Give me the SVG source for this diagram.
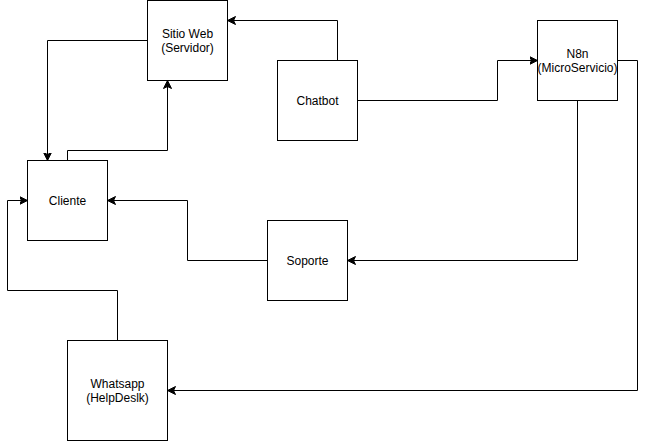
<svg xmlns="http://www.w3.org/2000/svg" width="646" height="441" viewBox="0 0 646 441">
<defs>
<marker id="arr" markerUnits="userSpaceOnUse" markerWidth="10" markerHeight="10" refX="8" refY="4.5" orient="auto">
<path d="M0,0.5 L8,4.5 L0,8.5 L2,4.5 Z" fill="#000" stroke="#000" stroke-width="1"/>
</marker>
<style>
.box{fill:#fff;stroke:#000;stroke-width:1}
.lbl{font-family:"Liberation Sans",Arial,sans-serif;font-size:12px;fill:#000;text-anchor:middle}
.edge{fill:none;stroke:#000;stroke-width:1;marker-end:url(#arr)}
</style>
</defs>
<rect width="646" height="441" fill="#fff"/>
<g id="connectors">
<path class="edge" d="M337.5,60.5 V20.5 H227.5"/>
<path class="edge" d="M147.5,40.5 H47.5 V160.5"/>
<path class="edge" d="M67.5,160.5 V150.5 H167.5 V80.5"/>
<path class="edge" d="M357.5,100.5 H497.5 V60.5 H537.5"/>
<path class="edge" d="M577.5,100.5 V260.5 H347.5"/>
<path class="edge" d="M617.5,60.5 H637.5 V390.5 H167.5"/>
<path class="edge" d="M267.5,260.5 H187.5 V200.5 H107.5"/>
<path class="edge" d="M117.5,340.5 V290.5 H7.5 V200.5 H27.5"/>
</g>
<g id="sitio">
<rect class="box" x="147.5" y="0.5" width="80" height="80"/>
<text class="lbl" x="187.5" y="38">Sitio Web</text>
<text class="lbl" x="187.5" y="52">(Servidor)</text>
</g>
<g id="chatbot">
<rect class="box" x="277.5" y="60.5" width="80" height="80"/>
<text class="lbl" x="317.5" y="104.5">Chatbot</text>
</g>
<g id="n8n">
<rect class="box" x="537.5" y="20.5" width="80" height="80"/>
<text class="lbl" x="577.5" y="58">N8n</text>
<text class="lbl" x="577.5" y="72">(MicroServicio)</text>
</g>
<g id="cliente">
<rect class="box" x="27.5" y="160.5" width="80" height="80"/>
<text class="lbl" x="67.5" y="204.5">Cliente</text>
</g>
<g id="soporte">
<rect class="box" x="267.5" y="220.5" width="80" height="80"/>
<text class="lbl" x="307.5" y="264.5">Soporte</text>
</g>
<g id="whatsapp">
<rect class="box" x="67.5" y="340.5" width="100" height="100"/>
<text class="lbl" x="117.5" y="387.5">Whatsapp</text>
<text class="lbl" x="117.5" y="401.5">(HelpDeslk)</text>
</g>
</svg>
